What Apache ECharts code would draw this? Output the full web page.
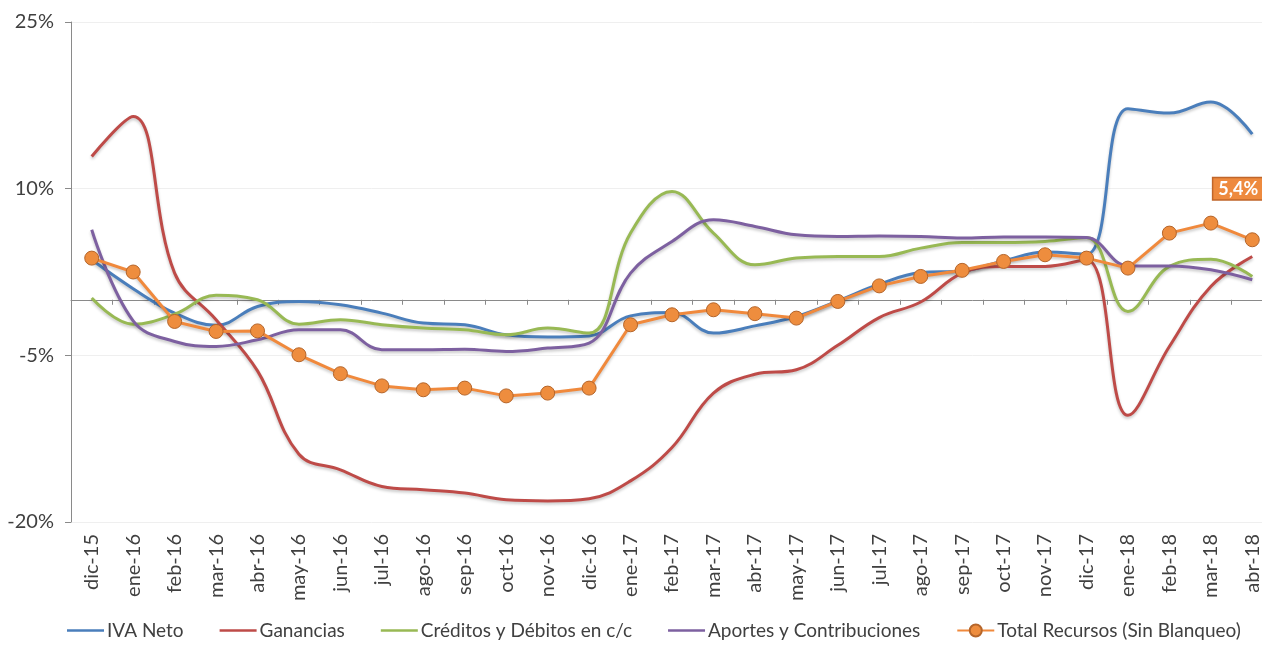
<!DOCTYPE html>
<html>
<head>
<meta charset="utf-8">
<script src="https://cdn.jsdelivr.net/npm/echarts@6/dist/echarts.min.js"></script>
<style>
html,body{margin:0;padding:0;background:#fff;overflow:hidden;}
#chart{width:1273px;height:645px;}
</style>
</head>
<body>
<div id="chart"></div>
<script>
const categories = ['dic-15','ene-16','feb-16','mar-16','abr-16','may-16','jun-16','jul-16','ago-16','sep-16','oct-16','nov-16','dic-16','ene-17','feb-17','mar-17','abr-17','may-17','jun-17','jul-17','ago-17','sep-17','oct-17','nov-17','dic-17','ene-18','feb-18','mar-18','abr-18'];
const ivaNeto = [3.6, 1.0, -1.2, -2.3, -0.6, -0.15, -0.45, -1.2, -2.1, -2.25, -3.15, -3.35, -3.25, -1.45, -1.15, -3.0, -2.35, -1.5, -0.1, 1.4, 2.45, 2.6, 3.5, 4.3, 4.1, 17.2, 16.8, 17.8, 14.9];
const ganancias = [12.9, 16.5, 2.4, -1.8, -6.4, -13.9, -15.3, -16.8, -17.1, -17.4, -18.0, -18.1, -17.9, -16.3, -13.3, -8.4, -6.7, -6.3, -4.1, -1.6, -0.2, 2.4, 3.0, 3.0, 3.6, -10.4, -4.2, 1.2, 3.9];
const creditos = [0.15, -2.2, -1.3, 0.4, 0.0, -2.2, -1.8, -2.25, -2.55, -2.7, -3.15, -2.55, -3.0, 6.0, 9.75, 6.0, 3.15, 3.75, 3.9, 3.9, 4.65, 5.15, 5.15, 5.25, 5.6, -1.05, 3.0, 3.65, 2.1];
const aportes = [6.3, -1.9, -3.75, -4.2, -3.6, -2.7, -2.7, -4.5, -4.5, -4.45, -4.65, -4.35, -3.9, 2.4, 5.25, 7.2, 6.6, 5.85, 5.7, 5.75, 5.7, 5.55, 5.65, 5.65, 5.6, 3.05, 3.05, 2.7, 1.8];
const totalRecursos = [3.75, 2.5, -1.95, -2.85, -2.8, -4.95, -6.65, -7.75, -8.1, -7.95, -8.65, -8.4, -7.95, -2.25, -1.35, -0.9, -1.25, -1.65, -0.15, 1.25, 2.1, 2.65, 3.45, 4.05, 3.75, 2.85, 6.0, 6.9, 5.4];
const yTicks = { min: -20, max: 25, interval: 15 };
const seriesNames = ['IVA Neto', 'Ganancias', 'Créditos y Débitos en c/c', 'Aportes y Contribuciones', 'Total Recursos (Sin Blanqueo)'];

const FONT = 'Lato';
const chart = echarts.init(document.getElementById('chart'), null, { renderer: 'canvas' });

function smoothLine(name, data, color) {
  return {
    name: name, type: 'line', data: data, smooth: 0.4, symbol: 'none',
    xAxisIndex: 0, yAxisIndex: 0,
    lineStyle: { color: color, width: 3, shadowBlur: 3, shadowColor: 'rgba(0,0,0,0.22)', shadowOffsetY: 2 },
    itemStyle: { color: color },
    emphasis: { disabled: true }
  };
}

const totalData = totalRecursos.map((v, i) => {
  if (i === totalRecursos.length - 1) {
    return {
      value: v,
      label: {
        show: true, position: 'top', distance: 33, offset: [-14, 0],
        formatter: p => p.value.toFixed(1).replace('.', ',') + '%',
        color: '#fff', fontWeight: 'bold', fontSize: 18, fontFamily: FONT,
        backgroundColor: '#EE8A3E', borderColor: '#C0662A', borderWidth: 1.5,
        padding: [2, 5, 1, 5]
      }
    };
  }
  return v;
});

const lineIcon = 'path://M0,0L37,0L37,2.4L0,2.4Z';
const legendData = seriesNames.map((n, i) => i < 4 ? { name: n, icon: lineIcon } : { name: n });

const option = {
  animation: false,
  backgroundColor: '#fff',
  grid: { left: 71, right: 0, top: 22, bottom: 123, containLabel: false },
  legend: {
    left: 62, top: 616, width: 1205, itemWidth: 37, itemHeight: 15, itemGap: 36,
    textStyle: { fontFamily: FONT, fontSize: 19, color: '#404040', padding: [0, 0, 0, -2] },
    data: legendData
  },
  xAxis: [
    {
      type: 'category', data: categories, position: 'bottom', boundaryGap: true,
      axisLine: { show: false, onZero: false }, axisTick: { show: false },
      axisLabel: { rotate: 90, fontFamily: FONT, fontSize: 20, color: '#404040', margin: 12, interval: 0 },
      splitLine: { show: false }
    },
    {
      type: 'category', data: categories, position: 'bottom', boundaryGap: true,
      axisLine: { show: true, onZero: true, lineStyle: { color: '#8a8a8a', width: 1 } },
      axisTick: { show: true, length: 5, interval: 0, lineStyle: { color: '#8a8a8a' } },
      axisLabel: { show: false }, splitLine: { show: false }
    }
  ],
  yAxis: {
    type: 'value', min: yTicks.min, max: yTicks.max, interval: yTicks.interval,
    axisLine: { show: true, lineStyle: { color: '#8a8a8a' } },
    axisTick: { show: true, length: 6, lineStyle: { color: '#8a8a8a' } },
    axisLabel: { formatter: '{value}%', fontFamily: FONT, fontSize: 20, color: '#404040', margin: 17 },
    splitLine: { show: true, lineStyle: { color: '#efefef', width: 1 } }
  },
  series: [
    smoothLine(seriesNames[0], ivaNeto, '#4A7EBB'),
    smoothLine(seriesNames[1], ganancias, '#BE4B48'),
    smoothLine(seriesNames[2], creditos, '#98B954'),
    smoothLine(seriesNames[3], aportes, '#7D60A0'),
    {
      name: seriesNames[4], type: 'line', data: totalData, smooth: false,
      symbol: 'circle', symbolSize: 14, showSymbol: true,
      xAxisIndex: 0, yAxisIndex: 0,
      lineStyle: { color: '#F0893C', width: 3, shadowBlur: 3, shadowColor: 'rgba(0,0,0,0.22)', shadowOffsetY: 2 },
      itemStyle: { color: '#EE8D3E', borderColor: '#B5652A', borderWidth: 1 },
      emphasis: { disabled: true },
      z: 5
    }
  ]
};
chart.setOption(option);
</script>
</body>
</html>
